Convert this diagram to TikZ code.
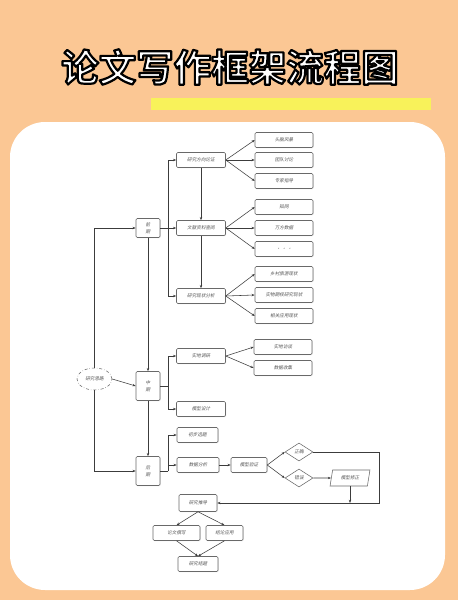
\documentclass[tikz,border=0pt]{standalone}
\usepackage{fontspec}
\usetikzlibrary{arrows.meta,shapes.geometric,shadows,calc}
\newfontfamily\cjkt[FakeSlant=0.2]{Noto Sans CJK SC}
\newfontfamily\cjkb{Noto Sans CJK SC}[BoldFont=* Bold]
\definecolor{peach}{RGB}{251,199,148}
\definecolor{barY}{RGB}{248,242,90}
\definecolor{boxc}{RGB}{105,105,105}
\definecolor{txtc}{RGB}{85,85,85}
\definecolor{linec}{RGB}{60,60,60}
\tikzset{
  box/.style={draw=boxc, rounded corners=1.2pt, line width=0.55pt, fill=white,
    font=\cjkt\fontsize{4.6}{5.6}\selectfont, text=txtc, inner sep=0pt,
    minimum height=15pt, align=center,
    drop shadow={shadow xshift=0.6pt, shadow yshift=-0.7pt, opacity=0.25}},
  rbox/.style={box, minimum width=58pt},
  mbox/.style={box, minimum width=49pt},
  pbox/.style={box, minimum width=24pt},
  dia/.style={draw=boxc, diamond, line width=0.55pt, fill=white, inner sep=0pt,
    minimum width=28pt, minimum height=18pt,
    font=\cjkt\fontsize{4.6}{5.6}\selectfont, text=txtc},
  para/.style={draw=boxc, trapezium, trapezium left angle=72, trapezium right angle=108,
    trapezium stretches=true, line width=0.55pt, fill=white, inner sep=0pt,
    minimum width=40pt, minimum height=16pt,
    font=\cjkt\fontsize{4.6}{5.6}\selectfont, text=txtc},
  conn/.style={draw=linec, line width=0.55pt},
  arr/.style={conn, -{Stealth[length=3.2pt,width=2.4pt]}},
  ttl/.style={font=\cjkb\bfseries\fontsize{37.5}{40}\selectfont}
}
\begin{document}
\begin{tikzpicture}[x=1pt,y=-1pt]
\useasboundingbox (0,0) rectangle (458,600);
\fill[peach] (0,0) rectangle (458,600);
\fill[white,rounded corners=35pt] (10,122) rectangle (445,590);
\fill[fill=barY] (151,98) rectangle (431,110);
% title: white letters with a black outline (text render mode 2)
\node[ttl] (title) at (230,67)
  {\special{pdf:literal direct q 2 Tr 2.2 w 1 j 0 0 0 RG 1 1 1 rg}论文写作框架流程图\special{pdf:literal direct Q}};

% left column
\node[draw=boxc, ellipse, dash dot, line width=0.55pt, fill=white, inner sep=0pt,
  minimum width=35pt, minimum height=22pt,
  font=\cjkt\fontsize{4.6}{5.6}\selectfont, text=txtc] (e) at (94.5,379) {研究思路};
\node[pbox, minimum height=19pt] (q) at (148,228) {前\\[1pt]期};
\node[pbox, minimum height=29pt] (m) at (148,386) {中\\[1pt]期};
\node[pbox, minimum height=29pt] (h) at (148,471) {后\\[1pt]期};

% early stage
\node[mbox] (a1) at (201,160) {研究方向论证};
\node[mbox] (a2) at (201,228) {文献资料查阅};
\node[mbox] (a3) at (201,296) {研究现状分析};
\node[rbox] (b1) at (284,140) {头脑风暴};
\node[rbox] (b2) at (284,160) {团队讨论};
\node[rbox] (b3) at (284,181) {专家指导};
\node[rbox] (b4) at (284,207) {知网};
\node[rbox] (b5) at (284,228) {万方数据};
\node[rbox] (b6) at (284,249) {· · ·};
\node[rbox] (b7) at (284,274) {乡村旅游现状};
\node[rbox] (b8) at (284,295) {实物期权研究现状};
\node[rbox] (b9) at (284,316) {相关应用现状};

% middle stage
\node[mbox] (c1) at (201,356) {实地调研};
\node[mbox] (c2) at (201,409) {模型设计};
\node[rbox] (d1) at (283,347) {实地访谈};
\node[rbox] (d2) at (283,368) {数据收集};

% late stage
\node[box, minimum width=41pt] (g1) at (197.5,435) {初步选题};
\node[box, minimum width=42pt] (g2) at (198,465) {数据分析};
\node[box, minimum width=36pt] (g3) at (249,465) {模型验证};
\node[dia] (ok) at (299,452) {正确};
\node[dia] (no) at (299,478) {错误};
\node[para] (fix) at (350,478) {模型修正};
\node[box, minimum width=38pt, minimum height=17pt] (t) at (198,503) {研究推导};
\node[box, minimum width=47pt] (w1) at (176.5,533) {论文撰写};
\node[box, minimum width=37pt] (w2) at (224.5,533) {结论应用};
\node[box, minimum width=40pt] (z) at (198,564) {研究结题};

% connectors: left
\draw[arr] (e.north) |- (q.west);
\draw[arr] (e.south) |- (h.west);
\draw[arr] (e.east) -- (m.west);
\draw[arr] (q.south) -- (m.north);
\draw[arr] (m.south) -- (h.north);

% forks
\coordinate (f1) at ($(q.east)+(8pt,0)$);
\draw[conn] (q.east) -- (f1);
\draw[arr] (f1) |- (a1.west);
\draw[arr] (f1) -- (a2.west);
\draw[arr] (f1) |- (a3.west);
\draw[arr] (a1.south) -- (a2.north);
\draw[arr] (a2.south) -- (a3.north);
\foreach \s/\t in {a1/b1,a1/b2,a1/b3,a2/b4,a2/b5,a2/b6,a3/b7,a3/b8,a3/b9}{
  \draw[arr] (\s.east) -- (\t.west);
}

\coordinate (f2) at ($(m.east)+(8pt,0)$);
\draw[conn] (m.east) -- (f2);
\draw[arr] (f2) |- (c1.west);
\draw[arr] (f2) |- (c2.west);
\draw[arr] (c1.east) -- (d1.west);
\draw[arr] (c1.east) -- (d2.west);

\coordinate (f3) at ($(h.east)+(8pt,0)$);
\draw[conn] (h.east) -- (f3);
\draw[arr] (f3) |- (g1.west);
\draw[arr] (f3) |- (g2.west);
\draw[arr] (g2.east) -- (g3.west);
\draw[arr] (g3.east) -- (ok.west);
\draw[arr] (g3.east) -- (no.west);
\draw[arr] (no.east) -- (fix.west);

\coordinate (loop) at (379,503);
\draw[arr] (ok.east) -| (loop) -- (t.east);
\draw[arr] (fix.south) -- (fix.south |- loop);

\draw[arr] (t.south) -- (w1.north);
\draw[arr] (t.south) -- (w2.north);
\draw[arr] (w1.south) -- (z.north);
\draw[arr] (w2.south) -- (z.north);
\end{tikzpicture}
\end{document}
